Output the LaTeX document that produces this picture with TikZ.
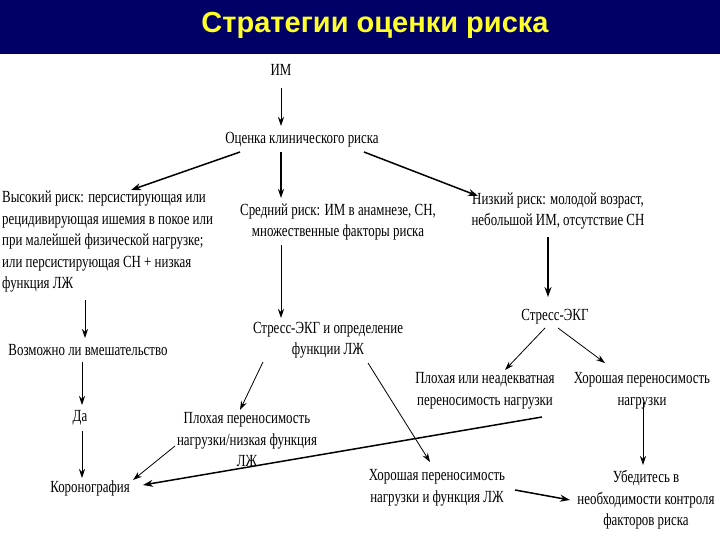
\documentclass[tikz,border=0pt]{standalone}
\usepackage{fontspec}
\usepackage{tikz}
\usetikzlibrary{
  arrows.meta,
  positioning
}
\newfontfamily\diagfont{Liberation Serif}[FakeStretch=0.76]
\newfontfamily\titlefont{Liberation Sans}
\definecolor{TitleNavy}{RGB}{0,0,102}
\definecolor{TitleYellow}{RGB}{255,255,40}
\tikzset{
  steptext/.style={inner sep=1pt,align=center,font=\diagfont\fontsize{17}{21.5}\selectfont},
  flow/.style={-{Stealth[length=9pt,width=6pt]},line width=0.8pt,draw=black},
  flowbold/.style={-{Stealth[length=10pt,width=7pt]},line width=1.5pt,draw=black}
}
\begin{document}
\begin{tikzpicture}[x=1pt,y=-1pt]
\useasboundingbox (0,0) rectangle (720,540);
\fill[TitleNavy] (0,0) rectangle (720,54);
\node[anchor=base, text=TitleYellow, font=\titlefont\bfseries\fontsize{29}{32}\selectfont] (title) at (375,33) {Стратегии оценки риска};
\node[steptext] (im) at (281,70) {ИМ};
\node[steptext] (assess) at (302,140) {Оценка клинического риска};
\node[steptext, align=left, anchor=north west] (high) at (1,190) {Высокий риск: персистирующая или\\рецидивирующая ишемия в покое или\\при малейшей физической нагрузке;\\или персистирующая СН + низкая\\функция ЛЖ};
\node[steptext] (mid) at (338,222) {Средний риск: ИМ в анамнезе, СН,\\множественные факторы риска};
\node[steptext] (low) at (558,211) {Низкий риск: молодой возраст,\\небольшой ИМ, отсутствие СН};
\node[steptext] (possible) at (88,350) {Возможно ли вмешательство};
\node[steptext] (yes) at (80,418) {Да};
\node[steptext] (coro) at (90,488) {Коронография};
\node[steptext] (stressfn) at (328,340) {Стресс-ЭКГ и определение\\функции ЛЖ};
\node[steptext] (poorfn) at (247,440) {Плохая переносимость\\нагрузки/низкая функция\\ЛЖ};
\node[steptext] (good) at (437,488) {Хорошая переносимость\\нагрузки и функция ЛЖ};
\node[steptext] (stress) at (555,317) {Стресс-ЭКГ};
\node[steptext] (poor) at (485,391) {Плохая или неадекватная\\переносимость нагрузки};
\node[steptext] (goodload) at (642,391) {Хорошая переносимость\\нагрузки};
\node[steptext] (check) at (646,500) {Убедитесь в\\необходимости контроля\\факторов риска};
\draw[flow] ([shift={(0,18)}]im.center) -- ([shift={(-21,-14)}]assess.center);
\draw[flowbold] ([shift={(-62,12)}]assess.center) -- ([shift={(130,0)}]high.north west);
\draw[flow, line width=1.1pt] ([shift={(-21,12)}]assess.center) -- ([shift={(-57,-24)}]mid.center);
\draw[flowbold] ([shift={(62,12)}]assess.center) -- ([shift={(-80,-15)}]low.center);
\draw[flow] ([shift={(84,110)}]high.north west) -- ([shift={(-3,-12)}]possible.center);
\draw[flow] ([shift={(-6,12)}]possible.center) -- ([shift={(2,-13)}]yes.center);
\draw[flow] ([shift={(2,13)}]yes.center) -- ([shift={(-8,-10)}]coro.center);
\draw[flow] ([shift={(-47,-95)}]stressfn.center) -- ([shift={(-47,-22)}]stressfn.center);
\draw[flow] ([shift={(-65,22)}]stressfn.center) -- ([shift={(-7,-30)}]poorfn.center);
\draw[flow] ([shift={(40,23)}]stressfn.center) -- ([shift={(-7,-26)}]good.center);
\draw[flow] ([shift={(-72,6)}]poorfn.center) -- ([shift={(43,-8)}]coro.center);
\draw[flowbold] ([shift={(57,26)}]poor.center) -- ([shift={(53,-3)}]coro.center);
\draw[flowbold] ([shift={(78,2)}]good.center) -- ([shift={(-76,0)}]check.center);
\draw[flowbold] ([shift={(-10,26)}]low.center) -- ([shift={(-7,-20)}]stress.center);
\draw[flow] ([shift={(-10,11)}]stress.center) -- ([shift={(20,-21)}]poor.center);
\draw[flow] ([shift={(3,11)}]stress.center) -- ([shift={(-37,-28)}]goodload.center);
\draw[flow] ([shift={(1,11)}]goodload.center) -- ([shift={(-3,-35)}]check.center);
\end{tikzpicture}
\end{document}
